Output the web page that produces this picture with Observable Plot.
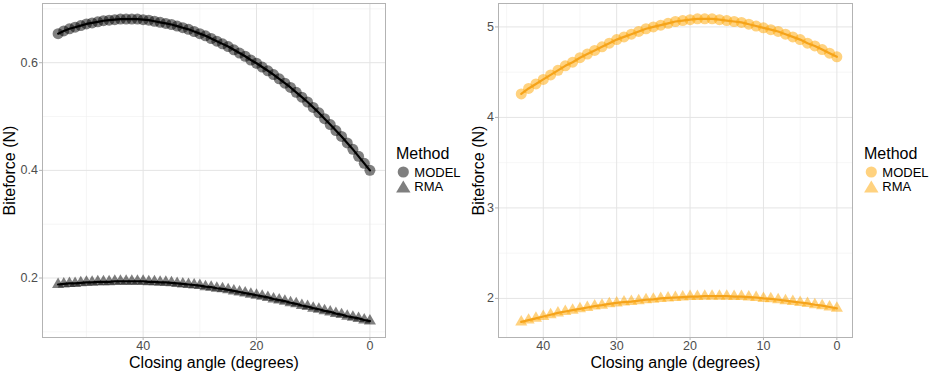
<!DOCTYPE html>
<html><head><meta charset="utf-8">
<script src="https://cdn.jsdelivr.net/npm/d3@7"></script>
<script src="https://cdn.jsdelivr.net/npm/@observablehq/plot@0.6"></script>
<style>
body{margin:0;background:#fff;font-family:"Liberation Sans",Arial,sans-serif;}
#wrap{position:relative;width:935px;height:374px;overflow:hidden;background:#fff;}
.panel{position:absolute;top:0;}
#legend{position:absolute;left:0;top:0;pointer-events:none;}
</style></head><body><div id="wrap"></div>
<script>
// ---------- data ----------
const methods = ["MODEL", "RMA"];
const xTitle = "Closing angle (degrees)";
const yTitle = "Biteforce (N)";
const legendTitle = "Method";

// Left panel (closing angle 0..55)
const leftAngles = [0,1,2,3,4,5,6,7,8,9,10,11,12,13,14,15,16,17,18,19,20,21,22,23,24,25,26,27,28,29,30,31,32,33,34,35,36,37,38,39,40,41,42,43,44,45,46,47,48,49,50,51,52,53,54,55];
const leftModel = [0.400,0.413,0.426,0.439,0.451,0.463,0.474,0.485,0.496,0.507,0.517,0.527,0.536,0.545,0.554,0.562,0.570,0.578,0.585,0.592,0.599,0.605,0.612,0.618,0.624,0.630,0.635,0.640,0.645,0.650,0.654,0.658,0.662,0.665,0.668,0.671,0.673,0.675,0.677,0.679,0.680,0.681,0.681,0.681,0.681,0.680,0.679,0.678,0.676,0.674,0.672,0.669,0.666,0.663,0.659,0.654];
const leftRMA = [0.120,0.122,0.125,0.127,0.129,0.132,0.134,0.137,0.139,0.142,0.144,0.147,0.149,0.152,0.154,0.157,0.159,0.161,0.164,0.166,0.168,0.170,0.172,0.174,0.176,0.178,0.180,0.181,0.183,0.184,0.186,0.187,0.188,0.189,0.190,0.191,0.192,0.192,0.193,0.193,0.194,0.194,0.194,0.194,0.194,0.194,0.193,0.193,0.193,0.192,0.192,0.191,0.190,0.190,0.189,0.188];
const leftXTicks = [0,20,40];
const leftXMinor = [10,30,50];
const leftYTicks = [0.2,0.4,0.6];
const leftYMinor = [0.1,0.3,0.5,0.7];

// Right panel (closing angle 0..43)
const rightAngles = [0,1,2,3,4,5,6,7,8,9,10,11,12,13,14,15,16,17,18,19,20,21,22,23,24,25,26,27,28,29,30,31,32,33,34,35,36,37,38,39,40,41,42,43];
const rightModel = [4.67,4.71,4.75,4.79,4.82,4.86,4.89,4.92,4.95,4.97,4.99,5.01,5.03,5.05,5.06,5.07,5.08,5.09,5.09,5.09,5.08,5.07,5.06,5.04,5.02,5.00,4.98,4.95,4.92,4.89,4.86,4.82,4.78,4.74,4.70,4.66,4.61,4.57,4.52,4.47,4.42,4.37,4.32,4.26];
const rightRMA = [1.89,1.905,1.92,1.93,1.945,1.955,1.965,1.975,1.985,1.995,2.00,2.01,2.015,2.02,2.02,2.025,2.025,2.025,2.025,2.02,2.02,2.015,2.01,2.005,2.00,1.99,1.985,1.975,1.965,1.96,1.95,1.94,1.925,1.915,1.90,1.885,1.87,1.855,1.84,1.82,1.80,1.78,1.76,1.74];
const rightXTicks = [0,10,20,30,40];
const rightXMinor = [5,15,25,35,45];
const rightYTicks = [2,3,4,5];
const rightYMinor = [2.5,3.5,4.5];

// ---------- drawing ----------
const FONT = '"Liberation Sans", Arial, sans-serif';
const wrap = document.getElementById("wrap");
const fmt = d => String(d);

function panel(o) {
  const modelData = o.angles.map((a, i) => ({angle: a, force: o.model[i], method: methods[0]}));
  const rmaData = o.angles.map((a, i) => ({angle: a, force: o.rma[i], method: methods[1]}));
  const chart = Plot.plot({
    width: o.width, height: 374,
    marginLeft: o.marginLeft, marginRight: 5, marginTop: 3, marginBottom: 37,
    style: {fontFamily: FONT, fontSize: "12.5px", color: "#4D4D4D", background: "transparent", overflow: "visible"},
    x: {domain: o.xDomain},
    y: {domain: o.yDomain},
    marks: [
      Plot.ruleX(o.xMinor, {stroke: "#F0F0F0", strokeWidth: 0.6}),
      Plot.ruleY(o.yMinor, {stroke: "#F0F0F0", strokeWidth: 0.6}),
      Plot.ruleX(o.xTicks, {stroke: "#E4E4E4", strokeWidth: 1}),
      Plot.ruleY(o.yTicks, {stroke: "#E4E4E4", strokeWidth: 1}),
      Plot.frame({stroke: "#B3B3B3", strokeWidth: 1}),
      Plot.axisX(o.xTicks, {tickSize: 3, tickPadding: 0.5, tickFormat: fmt, color: "#4D4D4D", stroke: "#B3B3B3", label: null}),
      Plot.axisY(o.yTicks, {tickSize: 3, tickPadding: 1.5, tickFormat: fmt, color: "#4D4D4D", stroke: "#B3B3B3", label: null}),
      Plot.dot(modelData, {x: "angle", y: "force", r: 5.5, symbol: "circle", fill: o.pointColor, fillOpacity: 0.5, stroke: "none"}),
      Plot.dot(rmaData, {x: "angle", y: "force", r: 4.5, symbol: "triangle", fill: o.pointColor, fillOpacity: 0.5, stroke: "none"}),
      Plot.line(modelData, {x: "angle", y: "force", stroke: o.lineColor, strokeWidth: o.lineWidth}),
      Plot.line(rmaData, {x: "angle", y: "force", stroke: o.lineColor, strokeWidth: o.lineWidth}),
      Plot.text([xTitle], {text: d => d, frameAnchor: "bottom", textAnchor: "middle", lineAnchor: "middle", dy: 25, fontSize: 16, fill: "#000"}),
      Plot.text([yTitle], {text: d => d, frameAnchor: "left", textAnchor: "middle", lineAnchor: "middle", rotate: -90, dx: o.yTitleDx, fontSize: 16, fill: "#000"})
    ]
  });
  const div = document.createElement("div");
  div.className = "panel";
  div.style.left = o.left + "px";
  div.appendChild(chart);
  wrap.appendChild(div);
}

panel({
  angles: leftAngles, model: leftModel, rma: leftRMA,
  xDomain: [57.75, -2.75], yDomain: [0.0895, 0.71],
  xTicks: leftXTicks, xMinor: leftXMinor, yTicks: leftYTicks, yMinor: leftYMinor,
  pointColor: "#000000", lineColor: "#000000", lineWidth: 2.2,
  left: 0, width: 390, marginLeft: 42, yTitleDx: -32.5
});

panel({
  angles: rightAngles, model: rightModel, rma: rightRMA,
  xDomain: [46.1, -2.13], yDomain: [1.568, 5.259],
  xTicks: rightXTicks, xMinor: rightXMinor, yTicks: rightYTicks, yMinor: rightYMinor,
  pointColor: "#FFA500", lineColor: "#F5A31A", lineWidth: 2.2,
  left: 465, width: 392, marginLeft: 33, yTitleDx: -20
});

// ---------- legends ----------
const svg = d3.select(wrap).append("svg").attr("id", "legend")
  .attr("width", 935).attr("height", 374)
  .style("font-family", FONT);

function legend(x0, color) {
  const g = svg.append("g").attr("transform", `translate(${x0},0)`);
  g.append("text").attr("x", 0).attr("y", 159).attr("font-size", 16).attr("fill", "#000").text(legendTitle);
  g.append("circle").attr("cx", 7.3).attr("cy", 172).attr("r", 5.6).attr("fill", color).attr("fill-opacity", 0.5);
  g.append("path").attr("d", "M7.3,180.5 L14.5,192.5 L0.1,192.5 Z").attr("fill", color).attr("fill-opacity", 0.5);
  g.append("text").attr("x", 18.3).attr("y", 177).attr("font-size", 13).attr("fill", "#000").text(methods[0]);
  g.append("text").attr("x", 18.3).attr("y", 191).attr("font-size", 13).attr("fill", "#000").text(methods[1]);
}
legend(396, "#000000");
legend(864, "#FFA500");
</script></body></html>
